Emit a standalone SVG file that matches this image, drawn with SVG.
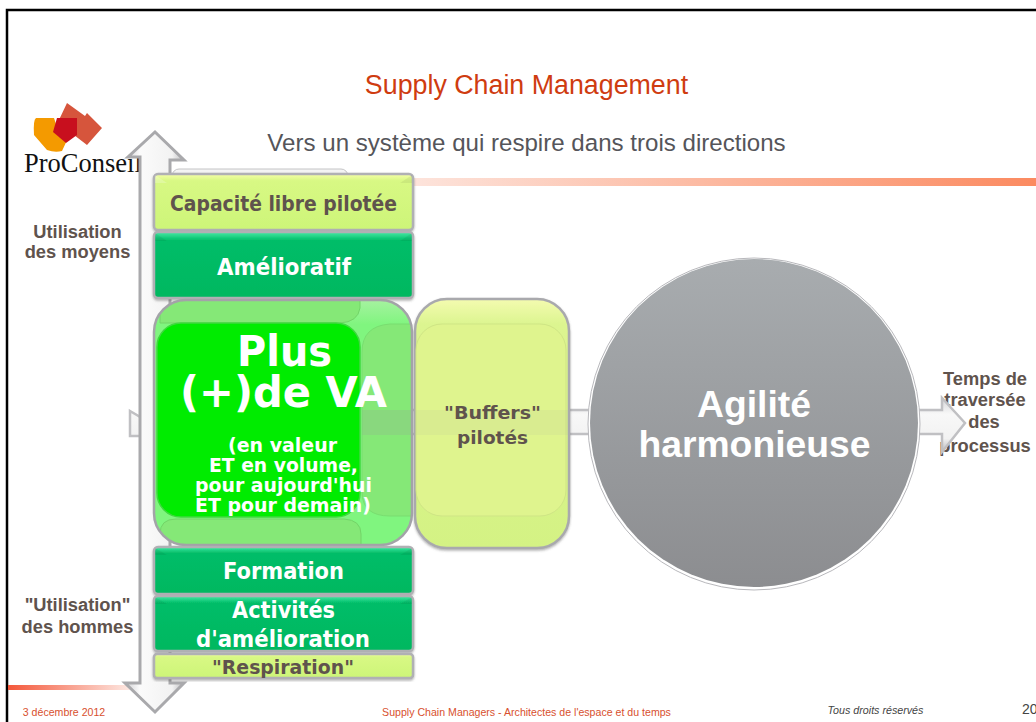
<svg xmlns="http://www.w3.org/2000/svg" width="1036" height="722" viewBox="0 0 1036 722">
<style>
text{font-family:"Liberation Sans",Arial,sans-serif;text-anchor:middle}
.b{font-weight:bold}
.dv{font-family:"DejaVu Sans",Verdana,sans-serif;font-weight:bold}
.lab{font-size:18.300px;font-weight:bold;fill:#5f534d}
.w{fill:#fff}
.d{fill:#5f534d}
.bar{stroke:#b0b0b4;stroke-width:2.500;filter:url(#sh)}
.foot{font-size:10.600px;fill:#d8502e}
.bev{fill:#fff;opacity:.22}
.bevd{fill:#000;opacity:.06}
</style>
<defs>
<filter id="sh" x="-5%" y="-10%" width="110%" height="125%"><feDropShadow dx="0" dy="1.500" stdDeviation="1.200" flood-color="#555" flood-opacity=".45"/></filter>
<linearGradient id="rule" x1="0" x2="1" y1="0" y2="0"><stop offset="0" stop-color="#fde4dc"/><stop offset="1" stop-color="#fb8a60"/></linearGradient>
<linearGradient id="rule2" x1="0" x2="1" y1="0" y2="0"><stop offset="0" stop-color="#f4573a"/><stop offset="1" stop-color="#fde8e2"/></linearGradient>
<linearGradient id="lime" x1="0" x2="0" y1="0" y2="1"><stop offset="0" stop-color="#f6ffa8"/><stop offset=".12" stop-color="#d8f884"/><stop offset="1" stop-color="#cdf578"/></linearGradient>
<linearGradient id="green" x1="0" x2="0" y1="0" y2="1"><stop offset="0" stop-color="#45eba6"/><stop offset=".13" stop-color="#00bd68"/><stop offset="1" stop-color="#00b860"/></linearGradient>
<linearGradient id="disc" x1="0" x2="0" y1="0" y2="1"><stop offset="0" stop-color="#a8acaf"/><stop offset="1" stop-color="#8c8d90"/></linearGradient>
<linearGradient id="shaft" x1="0" x2="0" y1="0" y2="1"><stop offset="0" stop-color="#d4d4d7"/><stop offset=".3" stop-color="#f8f8f8"/><stop offset=".75" stop-color="#f2f2f2"/><stop offset="1" stop-color="#b9b9bc"/></linearGradient>
<linearGradient id="shaftV" x1="0" x2="1" y1="0" y2="0"><stop offset="0" stop-color="#cfcfd2"/><stop offset=".25" stop-color="#fbfbfb"/><stop offset=".8" stop-color="#f2f2f2"/><stop offset="1" stop-color="#bbbbbe"/></linearGradient>
<linearGradient id="buf" x1="0" x2="0" y1="0" y2="1"><stop offset="0" stop-color="#f4fbb0"/><stop offset=".1" stop-color="#dcf590"/><stop offset="1" stop-color="#d4f284"/></linearGradient>
<linearGradient id="va" x1="0" x2="0" y1="0" y2="1"><stop offset="0" stop-color="#a6f2a0"/><stop offset=".1" stop-color="#80f57f"/><stop offset="1" stop-color="#80f57f"/></linearGradient>
<clipPath id="vaclip"><rect x="154" y="300" width="258" height="245" rx="32"/></clipPath>
</defs>

<rect width="1036" height="722" fill="#fff"/>
<path d="M7 722V10H1036" fill="none" stroke="#000" stroke-width="2.500"/>

<rect x="410" y="178" width="626" height="8" fill="url(#rule)"/>
<rect x="8" y="685" width="122" height="5" fill="url(#rule2)"/>

<text x="526.500" y="94" font-size="26.800" fill="#cf3c10">Supply Chain Management</text>
<text x="526.500" y="151" font-size="24.100" fill="#55555a">Vers un système qui respire dans trois directions</text>

<g id="logo">
<path d="M54 118H36Q33 120 34 135L47 150Q55 153 62 151L69 136L56 124Z" fill="#f49a00"/>
<path d="M67 103L85 116L87 113L102 128L87 145L74 135L58 122Z" fill="#d6553c"/>
<path d="M57 118H77V135L66 143L53 132Z" fill="#c80f1e"/>
<text x="24" y="172" font-size="26.500" fill="#111" style="font-family:'Liberation Serif',serif;text-anchor:start">ProConseil</text>
</g>

<g id="label-temps"><text class="lab" x="985" y="385">Temps de</text><text class="lab" x="985" y="406">traversée</text><text class="lab" x="984" y="428">des</text><text class="lab" x="985" y="452">processus</text></g>

<g id="connectors">
<path id="axis-h" d="M130 411L142 418V410H942V398L965 423L942 452V434H142V436L130 436Z" fill="url(#shaft)" stroke="#c0c0c3" stroke-width="2.500"/>
<path id="axis-v" d="M140 157H128L155 132L184 160L170 160V683H184L155 712L125 683H140Z" fill="url(#shaftV)" stroke="#a9a9ac" stroke-width="3"/>
</g>

<g id="node-capacite-back"><rect x="172" y="169" width="176" height="14" rx="7" fill="#f4f4f4" stroke="#c4c4c6"/></g>
<g id="node-capacite"><rect class="bar" x="154" y="174" width="259" height="56" rx="4" fill="url(#lime)"/><path class="bev" d="M155 175L167 183H155Z"/><path class="bevd" d="M412 175L400 183H412Z"/><text class="dv d" x="283.500" y="211" font-size="20.500" textLength="227" lengthAdjust="spacingAndGlyphs">Capacité libre pilotée</text></g>
<g id="node-amelioratif"><rect class="bar" x="154" y="232" width="259" height="66" rx="4" fill="url(#green)"/><path class="bevd" d="M155 233L167 241H155Z"/><path class="bevd" d="M412 233L400 241H412Z"/><text class="dv w" x="284" y="275" font-size="22.500" textLength="134" lengthAdjust="spacingAndGlyphs">Amélioratif</text></g>

<g id="node-buffers">
<rect x="415" y="299" width="154" height="249" rx="32" fill="url(#buf)" stroke="#a9a9ad" stroke-width="2.500" filter="url(#sh)"/>
<rect x="416" y="324" width="150" height="192" rx="26" fill="#dff48e" stroke="#cfe585"/>
<rect x="416" y="410" width="152" height="25" fill="#aaa" opacity=".1"/>
<text class="dv d" x="492.500" y="419" font-size="18" textLength="97" lengthAdjust="spacingAndGlyphs">"Buffers"</text>
<text class="dv d" x="492.500" y="444" font-size="18" textLength="71" lengthAdjust="spacingAndGlyphs">pilotés</text>
</g>

<g id="node-va">
<rect x="154" y="300" width="258" height="245" rx="32" fill="url(#va)"/>
<g clip-path="url(#vaclip)">
<path d="M160 296H360V308Q358 322 340 323H160Z" fill="#85e877" stroke="#72d468"/>
<path d="M414 324H390Q362 326 362 352V492Q362 516 390 516H414Z" fill="#85e877" stroke="#79dd70"/>
<path d="M160 548V534Q160 519 176 519H344Q361 520 361 534V548Z" fill="#85e877" stroke="#72d468"/>
<rect x="362" y="410" width="50" height="25" fill="#999" opacity=".2"/>
</g>
<rect x="154" y="300" width="258" height="245" rx="32" fill="none" stroke="#a3a3a8" stroke-width="2.500"/>
<rect x="157" y="323" width="203" height="194" rx="24" fill="#00ec00" stroke="#3fd83f" stroke-width="1.500"/>
<text class="dv w" x="284.500" y="366" font-size="42" textLength="95" lengthAdjust="spacingAndGlyphs">Plus</text>
<text class="dv w" x="283.500" y="407" font-size="42" textLength="207" lengthAdjust="spacingAndGlyphs">(+)de VA</text>
<text class="dv w" x="282.500" y="452" font-size="19" textLength="109" lengthAdjust="spacingAndGlyphs">(en valeur</text>
<text class="dv w" x="283.500" y="472" font-size="19" textLength="149" lengthAdjust="spacingAndGlyphs">ET en volume,</text>
<text class="dv w" x="283.500" y="492" font-size="19" textLength="177" lengthAdjust="spacingAndGlyphs">pour aujourd'hui</text>
<text class="dv w" x="283" y="512" font-size="19" textLength="176" lengthAdjust="spacingAndGlyphs">ET pour demain)</text>
</g>

<g id="node-formation"><rect class="bar" x="154" y="547" width="259" height="47" rx="4" fill="url(#green)"/><path class="bevd" d="M155 548L167 555H155Z"/><path class="bevd" d="M412 548L400 555H412Z"/><text class="dv w" x="283.500" y="579" font-size="22.500" textLength="121" lengthAdjust="spacingAndGlyphs">Formation</text></g>
<g id="node-activites"><rect class="bar" x="154" y="596" width="259" height="55" rx="4" fill="url(#green)"/><path class="bevd" d="M155 597L167 604H155Z"/><path class="bevd" d="M412 597L400 604H412Z"/><text class="dv w" x="283.500" y="618" font-size="22.500" textLength="103" lengthAdjust="spacingAndGlyphs">Activités</text><text class="dv w" x="283" y="647" font-size="22.500" textLength="174" lengthAdjust="spacingAndGlyphs">d'amélioration</text></g>
<g id="node-respiration"><rect class="bar" x="154" y="654" width="259" height="24" rx="3" fill="url(#lime)"/><text class="dv d" x="283" y="674" font-size="20" textLength="142" lengthAdjust="spacingAndGlyphs">"Respiration"</text></g>

<g id="node-agilite">
<circle cx="754" cy="424" r="166" fill="#fff" stroke="#b8b8bc" stroke-width="1"/>
<circle cx="754" cy="423" r="164" fill="url(#disc)"/>
<text class="b w" x="754" y="417" font-size="37.300">Agilité</text>
<text class="b w" x="754.500" y="457" font-size="37.300">harmonieuse</text>
</g>

<g id="label-moyens"><text class="lab" x="77.500" y="238">Utilisation</text><text class="lab" x="77.500" y="258">des moyens</text></g>
<g id="label-hommes"><text class="lab" x="77.500" y="611">"Utilisation"</text><text class="lab" x="77.500" y="633">des hommes</text></g>

<text class="foot" x="64" y="716">3 décembre 2012</text>
<text class="foot" x="526.500" y="716">Supply Chain Managers - Architectes de l'espace et du temps</text>
<text x="875.500" y="714" font-size="10.700" font-style="italic" fill="#444">Tous droits réservés</text>
<text x="1022" y="714" font-size="14" fill="#444" style="text-anchor:start">20</text>
</svg>
